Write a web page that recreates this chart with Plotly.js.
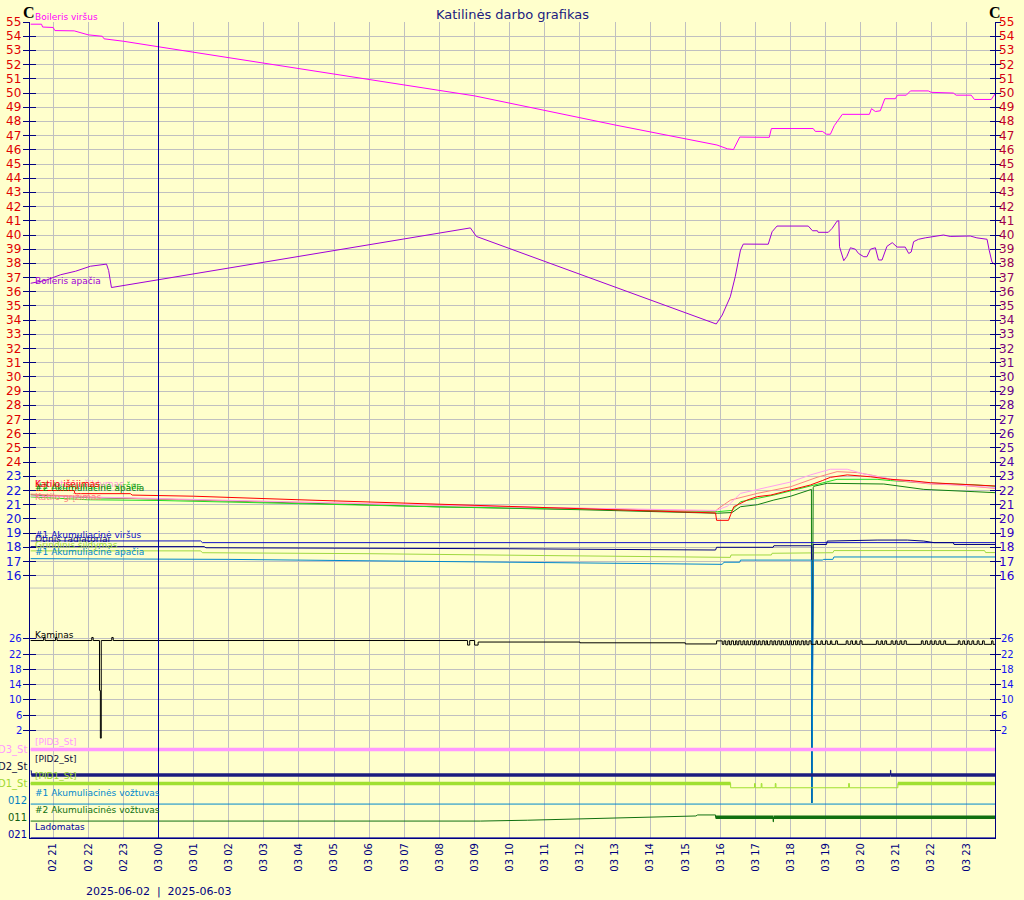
<!DOCTYPE html>
<html><head><meta charset="utf-8">
<script src="https://cdn.plot.ly/plotly-3.0.1.min.js"></script>
<style>html,body{margin:0;padding:0;background:#FFFFCC;}#chart{width:1024px;height:900px;}</style>
</head><body><div id="chart"></div>
<script>
// time = hours since 2025-06-02 00:00
const hourTicks = [21,22,23,24,25,26,27,28,29,30,31,32,33,34,35,36,37,38,39,40,41,42,43,44,45,46,47];
const hourLabels = ['02 21','02 22','02 23','03 00','03 01','03 02','03 03','03 04','03 05','03 06','03 07','03 08','03 09','03 10','03 11','03 12','03 13','03 14','03 15','03 16','03 17','03 18','03 19','03 20','03 21','03 22','03 23'];
const tempTicks = [16,17,18,19,20,21,22,23,24,25,26,27,28,29,30,31,32,33,34,35,36,37,38,39,40,41,42,43,44,45,46,47,48,49,50,51,52,53,54,55];
const kamTicks = [2,6,10,14,18,22,26];
const statusTickLabels = ['021','011','012','PID1_St','PID2_St','PID3_St'];
const dateLabel = '2025-06-02\u00A0\u00A0|\u00A0\u00A02025-06-03';

const boilerisVirsus = [[20.36,54.85],[20.67,54.85],[20.70,54.65],[21.0,54.62],[21.05,54.4],[21.6,54.38],[22.0,54.1],[22.4,54.0],[22.45,53.82],[23.0,53.65],[24.0,53.26],[25.2,52.8],[30.3,50.87],[33.0,49.8],[37.0,47.75],[39.9,46.34],[40.2,46.07],[40.37,46.02],[40.55,46.9],[41.39,46.88],[41.45,47.5],[42.64,47.5],[42.70,47.3],[42.90,47.3],[43.02,47.1],[43.13,47.1],[43.24,47.7],[43.47,48.5],[44.24,48.5],[44.30,48.9],[44.41,48.7],[44.55,48.75],[44.68,49.6],[44.98,49.6],[45.04,49.85],[45.29,49.85],[45.41,50.15],[45.92,50.15],[46.00,50.05],[46.63,50.0],[46.71,49.85],[47.14,49.85],[47.23,49.55],[47.71,49.55],[47.82,49.95]];
const boilerisApacia = [[20.36,36.6],[20.78,36.8],[21.21,37.2],[21.64,37.45],[22.06,37.8],[22.35,37.9],[22.52,37.95],[22.58,37.5],[22.66,36.3],[24.0,36.85],[32.88,40.5],[33.05,39.9],[39.88,33.73],[40.05,34.36],[40.28,35.65],[40.42,37.06],[40.57,38.94],[40.65,39.36],[41.36,39.35],[41.47,40.23],[41.61,40.63],[42.50,40.63],[42.55,40.47],[42.62,40.3],[42.76,40.3],[42.78,40.19],[43.07,40.19],[43.18,40.47],[43.32,40.98],[43.37,41.0],[43.39,39.17],[43.51,38.19],[43.60,38.5],[43.70,39.1],[43.84,39.0],[43.93,38.7],[44.08,38.47],[44.17,38.47],[44.27,39.0],[44.41,39.1],[44.50,38.24],[44.60,38.24],[44.74,39.2],[44.89,39.46],[45.03,39.15],[45.26,39.15],[45.36,38.7],[45.43,38.8],[45.50,39.53],[45.64,39.7],[45.83,39.8],[46.17,39.95],[46.35,40.0],[46.54,39.9],[47.11,39.93],[47.30,39.8],[47.59,39.7],[47.65,38.94],[47.73,38.1],[47.82,37.9]];
const katiloIsejimas = [[20.36,22.0],[21.6,22.0],[21.62,21.78],[23.2,21.78],[23.25,21.68],[25.0,21.6],[28.0,21.35],[32.0,21.05],[36.0,20.75],[39.86,20.42],[39.89,19.9],[40.23,19.9],[40.29,20.3],[40.38,20.86],[40.76,21.33],[41.05,21.57],[41.43,21.68],[41.80,21.92],[42.19,22.15],[42.56,22.39],[42.90,22.7],[43.13,22.93],[43.61,23.1],[44.0,23.05],[44.27,22.97],[44.84,22.79],[45.41,22.7],[45.98,22.55],[46.74,22.46],[47.69,22.32],[47.82,22.32]];
const sildymas = [[20.36,21.6],[23.0,21.5],[27.0,21.25],[31.0,21.0],[35.0,20.8],[39.86,20.6],[39.91,20.63],[40.2,20.9],[40.57,21.8],[41.33,22.23],[42.0,22.6],[42.56,23.1],[43.13,23.5],[43.61,23.5],[44.08,23.17],[44.84,22.8],[45.41,22.65],[45.98,22.5],[46.74,22.4],[47.5,22.25],[47.82,22.2]];
const katiloGrizimas = [[20.36,21.75],[22.5,21.5],[24.0,21.4],[28.0,21.15],[32.0,20.95],[36.0,20.75],[39.86,20.55],[39.91,20.68],[40.29,21.33],[41.05,21.8],[42.0,22.27],[42.75,22.93],[43.32,23.33],[43.9,23.26],[44.27,23.1],[45.03,22.7],[45.98,22.46],[46.74,22.39],[47.69,22.15],[47.82,22.15]];
const akum2Virsus = [[20.36,21.55],[22.0,21.35],[24.0,21.3],[28.0,21.05],[32.0,20.85],[36.0,20.7],[39.86,20.5],[39.91,20.51],[40.33,20.6],[40.57,21.21],[41.52,21.68],[42.19,22.08],[42.56,22.32],[42.94,22.55],[43.32,22.79],[44.46,22.79],[44.84,22.7],[45.79,22.55],[46.74,22.46],[47.22,22.4],[47.82,22.3]];
const akum2Apacia = [[20.36,21.7],[22.0,21.5],[24.0,21.4],[28.0,21.1],[32.0,20.85],[36.0,20.65],[39.86,20.42],[39.91,20.4],[40.33,20.45],[40.57,20.86],[41.05,21.0],[41.52,21.33],[42.0,21.6],[42.59,22.08],[42.60,0],[42.62,19.92],[42.64,22.2],[42.66,22.3],[43.04,22.51],[44.65,22.46],[45.03,22.32],[45.79,22.08],[47.22,21.92],[47.82,21.85]];
const akum1Virsus = [[20.36,18.45],[25.2,18.45],[25.25,18.33],[47.82,18.33]];
const radiatoriai = [[20.36,18.05],[25.3,18.05],[25.35,17.97],[30.0,17.95],[34.0,17.9],[37.0,17.85],[39.86,17.81],[39.89,18.0],[41.5,18.0],[41.52,18.11],[42.59,18.11],[42.60,0],[42.62,12],[42.64,18.2],[43.02,18.2],[43.04,18.44],[44.46,18.51],[45.32,18.51],[45.79,18.44],[46.08,18.33],[46.63,18.33],[46.65,18.2],[47.82,18.2]];
const grindinis = [[20.36,17.75],[25.2,17.75],[25.25,17.62],[30.0,17.55],[35.0,17.42],[39.9,17.29],[40.28,17.29],[40.3,17.46],[41.45,17.46],[41.47,17.58],[43.2,17.62],[43.23,17.77],[47.52,17.77],[47.55,17.63],[47.82,17.63]];
const akum1Apacia = [[20.36,17.2],[26.0,17.15],[30.0,17.05],[34.0,16.95],[37.0,16.85],[39.4,16.8],[40.05,16.8],[40.1,16.95],[40.55,16.95],[40.57,17.1],[42.59,17.1],[42.605,0],[42.625,8.5],[42.645,17.1],[42.9,17.1],[42.94,17.15],[43.2,17.15],[43.23,17.32],[47.82,17.32]];

// Kaminas (step values)
const kaminas = [[20.36,25.6],[20.73,26.4],[20.77,25.6],[21.07,26.4],[21.11,25.6],[22.10,26.4],[22.14,25.6],[22.32,12.5],[22.345,0],[22.37,25.6],[22.67,26.4],[22.71,25.6],[32.80,24.4],[32.86,25.6],[33.00,24.4],[33.10,25.2],[36.0,25.0],[39.0,24.7],[39.89,25.5],[40.05,24.6],
[40.10,25.5],[40.15,24.5],[40.21,25.5],[40.26,24.5],[40.31,25.5],[40.37,24.5],[40.43,25.5],[40.47,24.5],[40.52,25.5],[40.58,24.5],[40.64,25.5],[40.69,24.5],[40.75,25.5],[40.79,24.5],[40.86,25.5],[40.92,24.5],[40.97,25.5],[41.02,24.5],[41.08,25.5],[41.13,24.5],[41.19,25.5],[41.25,24.5],[41.30,25.5],[41.34,24.5],[41.41,25.5],[41.47,24.5],[41.52,25.5],[41.57,24.5],[41.63,25.5],[41.69,24.5],[41.74,25.5],[41.79,24.5],[41.86,25.5],[41.91,24.5],[41.97,25.5],[42.02,24.5],[42.08,25.5],[42.14,24.5],[42.19,25.5],[42.24,24.5],[42.30,25.5],[42.36,24.5],[42.41,25.5],[42.46,24.5],[42.52,25.5],[42.58,24.6],
[42.72,25.5],[42.76,24.6],[42.86,25.5],[42.90,24.6],[42.99,25.5],[43.04,24.6],[43.13,25.5],[43.17,24.6],[43.28,25.5],[43.33,24.6],
[43.58,25.5],[43.63,24.6],[43.71,25.5],[43.76,24.6],[43.84,25.5],[43.88,24.6],[43.97,25.5],[44.03,24.6],
[44.44,25.5],[44.49,24.6],[44.57,25.5],[44.61,24.6],[44.68,25.5],[44.73,24.6],
[44.86,25.5],[44.91,24.6],[44.98,25.5],[45.03,24.6],[45.11,25.5],[45.16,24.6],[45.23,25.5],[45.29,24.6],
[45.72,25.5],[45.77,24.6],[45.84,25.5],[45.89,24.6],[45.97,25.5],[46.02,24.6],[46.09,25.5],[46.14,24.6],[46.22,25.5],[46.27,24.6],[46.36,25.5],[46.41,24.6],
[46.77,25.5],[46.82,24.6],[46.90,25.5],[46.95,24.6],[47.03,25.5],[47.08,24.6],[47.16,25.5],[47.21,24.6],[47.31,25.5],[47.36,24.6],[47.46,25.5],[47.51,24.6],
[47.72,25.5],[47.76,24.6],[47.82,24.6]];

// status channels: [time, band level, strong(1)/weak(0)]
const pid3 = [[20.36,5,1],[47.82,5,1]];
const pid2 = [[20.36,3.75,0],[20.38,3.75,0],[20.38,3.5,1],[44.84,3.5,1],[44.84,3.78,0],[44.85,3.78,0],[44.85,3.5,1],[47.82,3.5,1]];
const pid1 = [[20.36,3.0,1],[40.29,3.0,1],[40.29,2.75,0],[40.97,2.75,0],[40.97,3.0,0],[40.99,3.0,0],[40.99,2.75,0],[41.16,2.75,0],[41.16,3.0,0],[41.18,3.0,0],[41.18,2.75,0],[41.56,2.75,0],[41.56,3.0,0],[41.58,3.0,0],[41.58,2.75,0],[43.65,2.75,0],[43.65,3.0,0],[43.67,3.0,0],[43.67,2.75,0],[45.05,2.75,0],[45.05,3.0,1],[47.82,3.0,1]];
const valve1 = [[20.36,1.79,0],[47.82,1.79,0]];
const valve2 = [[20.36,0.79,0],[33.17,0.79,0],[34.5,0.84,0],[36.0,0.92,0],[37.5,0.99,0],[39.0,1.06,0],[39.05,1.09,0],[39.3,1.09,0],[39.35,1.15,0],[39.86,1.15,0],[39.86,1.01,1],[41.50,1.01,1],[41.50,0.75,0],[41.51,0.75,0],[41.51,1.01,1],[47.82,1.01,1]];
const ladomatas = [[20.36,-0.2,0],[47.82,-0.2,0]];

const NAVY = '#000080', GRID = '#C0C0C0', BG = '#FFFFCC';
const FONT = 'DejaVu Sans, Verdana, sans-serif';

function line(pts, color, yaxis, shape){
  return {type:'scatter', mode:'lines', x:pts.map(p=>p[0]), y:pts.map(p=>p[1]), yaxis:yaxis,
    line:{color:color, width:1, shape:shape||'linear'}, hoverinfo:'skip', showlegend:false};
}
function status(pts, color, wThick){
  const out = [line(pts, color, 'y9')];
  const tx=[], ty=[];
  for(let i=0;i<pts.length-1;i++){
    if(pts[i][2] && pts[i+1][2]){ tx.push(pts[i][0],pts[i+1][0],null); ty.push(pts[i][1],pts[i+1][1],null); }
  }
  if(tx.length) out.push({type:'scatter',mode:'lines',x:tx,y:ty,yaxis:'y9',line:{color:color,width:wThick},hoverinfo:'skip',showlegend:false,connectgaps:false});
  return out;
}
const empty = ax => ({type:'scatter',mode:'lines',x:[],y:[],yaxis:ax,hoverinfo:'skip',showlegend:false});

const data = [
  empty('y2'),empty('y3'),empty('y4'),empty('y6'),empty('y7'),empty('y8'),
  ...status(pid3,'#FF99FF',3.5),
  ...status(pid2,'#1C1C80',3.5),
  ...status(pid1,'#A0E030',3.5),
  ...status(valve1,'#0088CC',3.5),
  ...status(valve2,'#107010',3.5),
  ...status(ladomatas,'#0000A0',3.5),
  line(kaminas,'#000000','y5','hv'),
  line(boilerisVirsus,'#FF00FF','y'),
  line(boilerisApacia,'#A000D8','y'),
  line(akum2Apacia,'#108010','y'),
  line(akum2Virsus,'#22DD22','y'),
  line(katiloGrizimas,'#FF8080','y'),
  line(sildymas,'#FFA0F0','y'),
  line(katiloIsejimas,'#FF0000','y'),
  line(grindinis,'#A0D840','y'),
  line(akum1Virsus,'#1010C8','y'),
  line(radiatoriai,'#000080','y'),
  line(akum1Apacia,'#0088CC','y')
];

const TR = [-2.477, 55.005];
const KR = [-26.2, 187.84];
const SR = [-0.206, 47.794];
const base = {zeroline:false, showticklabels:false, tickcolor:NAVY, tickwidth:1, fixedrange:true, showgrid:false};

const ann = [];
function A(o){ ann.push(Object.assign({showarrow:false, borderpad:0, borderwidth:0}, o)); }
// temperature tick labels
tempTicks.forEach(v=>{
  A({xref:'paper',x:0,xanchor:'right',xshift:-9,yref:'y',y:v,yanchor:'middle',text:String(v),
     font:{family:FONT,size:12,color:v>=24?'#E00000':'#1010E0'}});
  const t=(v-16)/39, r=Math.round(40+t*190), b=Math.round(215-t*215);
  A({xref:'paper',x:1,xanchor:'left',xshift:4,yref:'y',y:v,yanchor:'middle',text:String(v),
     font:{family:FONT,size:12,color:'rgb('+r+',0,'+b+')'}});
});
kamTicks.forEach(v=>{
  A({xref:'paper',x:0,xanchor:'right',xshift:-8,yref:'y5',y:v,yanchor:'middle',text:String(v),font:{family:FONT,size:10,color:'#1414F0'}});
  A({xref:'paper',x:1,xanchor:'left',xshift:6,yref:'y5',y:v,yanchor:'middle',text:String(v),font:{family:FONT,size:10,color:'#1414F0'}});
});
const statusColors = ['#0000A0','#106010','#0080C0','#A0D830','#101040','#FF99FF'];
statusTickLabels.forEach((s,i)=>{
  A({xref:'paper',x:0,xanchor:'right',xshift:-3,yref:'y9',y:i,yanchor:'middle',text:s,font:{family:FONT,size:10,color:statusColors[i]}});
});
// series labels
const labels = [
  ['Boileris viršus','#FF00FF','y',boilerisVirsus,7],
  ['Boileris apačia','#A000D8','y',boilerisApacia,2],
  ['Katilo grįžimas','#FF8080','y',katiloGrizimas,-3],
  ['#2 Akumuliacinė viršus','#22CC22','y',akum2Virsus,11],
  ['Radiatorių šildymas','#FF99DD','y',sildymas,12],
  ['#2 Akumuliacinė apačia','#108010','y',akum2Apacia,7],
  ['Katilo išėjimas','#FF0000','y',katiloIsejimas,6.5],
  ['Otinis radiatoriai','#000080','y',radiatoriai,7.5],
  ['#1 Akumuliacinė viršus','#1010C8','y',akum1Virsus,6],
  ['Grindinis šildymas','#A0D840','y',grindinis,6],
  ['#1 Akumuliacinė apačia','#0088CC','y',akum1Apacia,6.5],
  ['Kaminas','#000000','y5',kaminas,5.5]
];
labels.forEach(l=>A({xref:'paper',x:0,xanchor:'left',xshift:5,yref:l[2],y:l[3][0][1],yanchor:'middle',yshift:l[4],text:l[0],font:{family:FONT,size:9,color:l[1]}}));
const statusNames = [['Ladomatas','#0000A0'],['#2 Akumuliacinės vožtuvas','#107010'],['#1 Akumuliacinės vožtuvas','#0088CC'],['[PID1_St]','#A0D830'],['[PID2_St]','#101040'],['[PID3_St]','#FF99FF']];
statusNames.forEach((s,i)=>A({xref:'paper',x:0,xanchor:'left',xshift:5,yref:'y9',y:i,yanchor:'middle',yshift:8,text:s[0],font:{family:FONT,size:9,color:s[1]}}));
// C unit marks
A({xref:'paper',x:0,xanchor:'center',xshift:-1,yref:'paper',y:1,yanchor:'bottom',yshift:1,text:'<b>C</b>',font:{family:'Liberation Serif, serif',size:16,color:'#000000'}});
A({xref:'paper',x:1,xanchor:'center',xshift:0,yref:'paper',y:1,yanchor:'bottom',yshift:1,text:'<b>C</b>',font:{family:'Liberation Serif, serif',size:16,color:'#000000'}});
// date line
A({xref:'x',x:24,xanchor:'center',yref:'paper',y:0,yanchor:'middle',yshift:-53,text:dateLabel,font:{family:FONT,size:11,color:NAVY}});

const layout = {
  width:1024, height:900, paper_bgcolor:BG, plot_bgcolor:BG,
  margin:{l:30,r:29,t:22,b:62,pad:0}, showlegend:false, hovermode:false,
  title:{text:'Katilinės darbo grafikas', font:{family:FONT,size:13,color:'#202080'}, x:0.5, xref:'paper', xanchor:'center', y:1-14/900, yref:'container', yanchor:'middle'},
  xaxis:{range:[20.3414,47.8164], tickmode:'array', tickvals:hourTicks, ticktext:hourLabels, tickangle:-90,
    tickfont:{family:FONT,size:10,color:NAVY}, ticks:'', showgrid:true, gridcolor:GRID, gridwidth:1,
    showline:true, linecolor:NAVY, linewidth:1, zeroline:false, fixedrange:true},
  yaxis:Object.assign({},base,{range:TR,tickmode:'array',tickvals:tempTicks,ticks:'outside',ticklen:6,showgrid:true,gridcolor:GRID,showline:true,linecolor:NAVY,side:'left'}),
  yaxis2:Object.assign({},base,{range:TR,overlaying:'y',tickmode:'array',tickvals:tempTicks,ticks:'inside',ticklen:6,side:'left'}),
  yaxis3:Object.assign({},base,{range:TR,overlaying:'y',tickmode:'array',tickvals:tempTicks,ticks:'outside',ticklen:5,side:'right',showline:true,linecolor:NAVY}),
  yaxis4:Object.assign({},base,{range:TR,overlaying:'y',tickmode:'array',tickvals:tempTicks,ticks:'inside',ticklen:5,side:'right'}),
  yaxis5:Object.assign({},base,{range:KR,overlaying:'y',tickmode:'array',tickvals:kamTicks,ticks:'outside',ticklen:6,showgrid:true,gridcolor:GRID,side:'left'}),
  yaxis6:Object.assign({},base,{range:KR,overlaying:'y',tickmode:'array',tickvals:kamTicks,ticks:'inside',ticklen:6,side:'left'}),
  yaxis7:Object.assign({},base,{range:KR,overlaying:'y',tickmode:'array',tickvals:kamTicks,ticks:'outside',ticklen:5,side:'right'}),
  yaxis8:Object.assign({},base,{range:KR,overlaying:'y',tickmode:'array',tickvals:kamTicks,ticks:'inside',ticklen:5,side:'right'}),
  yaxis9:Object.assign({},base,{range:SR,overlaying:'y',ticks:'',side:'left'}),
  shapes:[
    {type:'line',xref:'paper',x0:0,x1:1,yref:'y',y0:15.13,y1:15.13,line:{color:GRID,width:1},layer:'below'},
    {type:'line',xref:'x',x0:24,x1:24,yref:'paper',y0:0,y1:1,line:{color:'#0000A0',width:1},layer:'above'}
  ],
  annotations:ann
};
Plotly.newPlot('chart', data, layout, {displayModeBar:false, staticPlot:true});
</script></body></html>
